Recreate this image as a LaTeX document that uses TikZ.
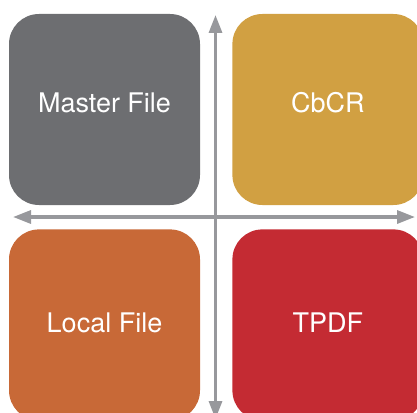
\documentclass[tikz,border=0pt]{standalone}
\usepackage{fontspec}
\setmainfont{TeX Gyre Heros}
\usepackage{xcolor}
\usetikzlibrary{arrows.meta,positioning}
\definecolor{mastergray}{HTML}{6D6E71}
\definecolor{cbcrgold}{HTML}{D1A042}
\definecolor{localorange}{HTML}{C86937}
\definecolor{tpdfred}{HTML}{C42B33}
\definecolor{axisgray}{HTML}{97989C}

\begin{document}
\begin{tikzpicture}[x=1pt, y=-1pt, node distance=24pt and 32pt,
 quad/.style={rounded corners=30pt,minimum width=191pt,minimum height=191pt,inner sep=0pt,
   text=white,text height=19.5pt,font=\fontsize{27}{31}\selectfont},
 toprow/.style={quad,text depth=14.5pt},
 lowrow/.style={quad,text depth=4.5pt},
 axis/.style={{Triangle[length=18pt,width=13pt]}-{Triangle[length=18pt,width=13pt]},line width=3.2pt,draw=axisgray}]
\useasboundingbox (0,0) rectangle (417,412);
\clip (0,0) rectangle (417,412);
% the four quadrants
\node[toprow, fill=mastergray] (master) at (104.5,109.5) {Master File};
\node[toprow, fill=cbcrgold, right=of master] (cbcr) {CbCR};
\node[lowrow, fill=localorange, below=of master] (local) {Local File};
\node[lowrow, fill=tpdfred, below=of cbcr] (tpdf) {TPDF};
% axes
\coordinate (west) at (13,217);
\coordinate (east) at (415,217);
\coordinate (north) at (215.5,15);
\coordinate (south) at (215.5,419);
\draw[axis] (west) -- (east);
\draw[axis] (north) -- (south);
\end{tikzpicture}
\end{document}
